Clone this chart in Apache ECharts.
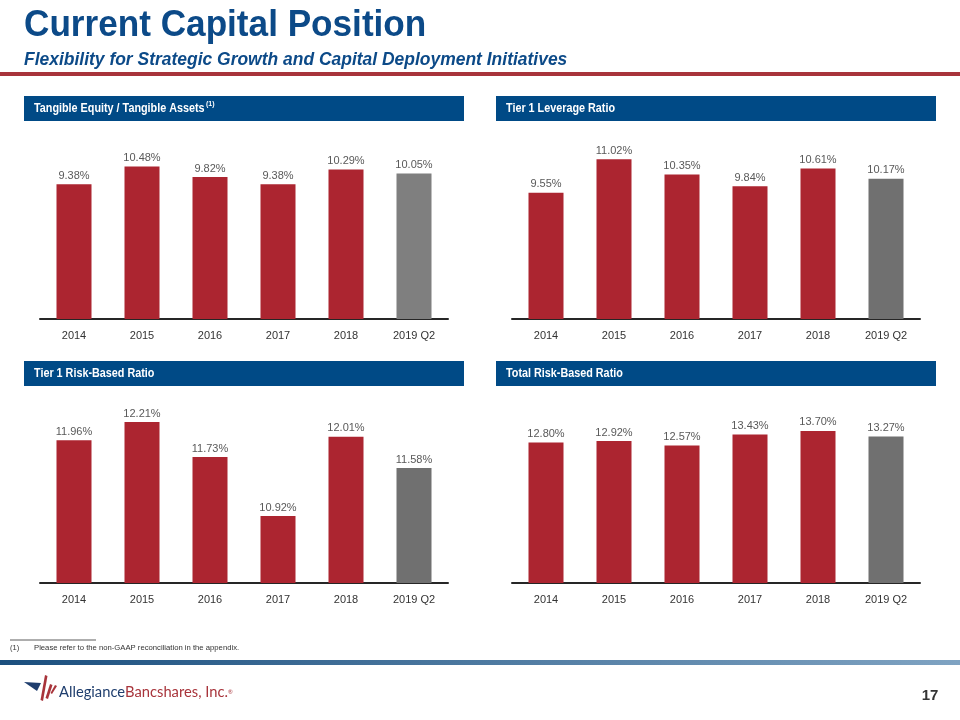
<!DOCTYPE html>
<html>
<head>
<meta charset="utf-8">
<script src="https://cdn.jsdelivr.net/npm/echarts@6/dist/echarts.min.js"></script>
<style>
html,body{margin:0;padding:0;background:#fff;}
#chart{width:960px;height:720px;}
</style>
</head>
<body>
<div id="chart"></div>
<script>
const categories = ['2014', '2015', '2016', '2017', '2018', '2019 Q2'];
const tangibleEquity = [9.38, 10.48, 9.82, 9.38, 10.29, 10.05];
const tier1Leverage = [9.55, 11.02, 10.35, 9.84, 10.61, 10.17];
const tier1RiskBased = [11.96, 12.21, 11.73, 10.92, 12.01, 11.58];
const totalRiskBased = [12.80, 12.92, 12.57, 13.43, 13.70, 13.27];
const panelTitles = ['Tangible Equity / Tangible Assets', 'Tier 1 Leverage Ratio', 'Tier 1 Risk-Based Ratio', 'Total Risk-Based Ratio'];

const RED = '#AC2530';
const SANS = "'Liberation Sans',Arial,sans-serif";

const panels = [
  {data: tangibleEquity, grid: {left: 40, width: 408, top: 142, height: 177}, min: 1, max: 12, gray: '#7F7F7F'},
  {data: tier1Leverage, grid: {left: 512, width: 408, top: 137, height: 182}, min: 4, max: 12, gray: '#707070'},
  {data: tier1RiskBased, grid: {left: 40, width: 408, top: 401, height: 182}, min: 10, max: 12.5, gray: '#707070'},
  {data: totalRiskBased, grid: {left: 512, width: 408, top: 401, height: 182}, min: 2, max: 16, gray: '#707070'}
];

const chart = echarts.init(document.getElementById('chart'), null, {renderer: 'canvas'});

const graphics = [];
// Title
graphics.push({type: 'text', x: 24, y: 7, scaleX: 0.95, style: {text: 'Current Capital Position', fill: '#0C4A88', font: "bold 37px " + SANS, verticalAlign: 'top'}});
graphics.push({type: 'text', x: 24, y: 51, scaleX: 0.97, style: {text: 'Flexibility for Strategic Growth and Capital Deployment Initiatives', fill: '#0C4A88', font: "italic bold 18px " + SANS, verticalAlign: 'top'}});
graphics.push({type: 'rect', shape: {x: 0, y: 72, width: 960, height: 4}, style: {fill: '#A8343B'}});
// Panel headers
const headers = [
  {x: 24, y: 96}, {x: 496, y: 96}, {x: 24, y: 361}, {x: 496, y: 361}
];
headers.forEach((h, i) => {
  graphics.push({type: 'rect', shape: {x: h.x, y: h.y, width: 440, height: 25}, style: {fill: '#004A86'}});
  graphics.push({type: 'text', x: h.x + 10, y: h.y + 12.5, scaleX: 0.9, style: {text: panelTitles[i], fill: '#fff', font: "bold 12px " + SANS, verticalAlign: 'middle'}});
});
graphics.push({type: 'text', x: 206, y: 104, style: {text: '(1)', fill: '#fff', font: "bold 7px " + SANS, verticalAlign: 'middle'}});
// Footnote
graphics.push({type: 'line', shape: {x1: 10, y1: 640, x2: 96, y2: 640}, style: {stroke: '#333', lineWidth: 0.8}});
graphics.push({type: 'text', x: 10, y: 648, style: {text: '(1)', fill: '#333', font: "7.5px " + SANS, verticalAlign: 'middle'}});
graphics.push({type: 'text', x: 34, y: 648, style: {text: 'Please refer to the non-GAAP reconciliation in the appendix.', fill: '#333', font: "7.7px " + SANS, verticalAlign: 'middle'}});
// Gradient line
graphics.push({type: 'rect', shape: {x: 0, y: 660, width: 960, height: 5},
  style: {fill: new echarts.graphic.LinearGradient(0, 0, 1, 0, [{offset: 0, color: '#1B4F7E'}, {offset: 1, color: '#7FA3C2'}])}});
// Logo mark
graphics.push({type: 'polygon', shape: {points: [[24, 682], [41, 683], [37, 691]]}, style: {fill: '#1F3E6E'}});
graphics.push({type: 'polygon', shape: {points: [[45, 675], [47.5, 676], [43, 701], [40.5, 700]]}, style: {fill: '#A8343B'}});
graphics.push({type: 'polygon', shape: {points: [[50, 684], [52.5, 685], [48, 699], [45.5, 698]]}, style: {fill: '#A8343B'}});
graphics.push({type: 'polygon', shape: {points: [[55, 685], [57, 686], [52, 694], [50.5, 693]]}, style: {fill: '#A8343B'}});
graphics.push({type: 'text', x: 59, y: 692, scaleX: 0.95, style: {
  text: '{a|Allegiance}{b|Bancshares, Inc.}{c|®}', verticalAlign: 'middle',
  rich: {a: {fill: '#1F3E6E', font: "15.5px Lato, sans-serif"}, b: {fill: '#A8343B', font: "15.5px Lato, sans-serif"}, c: {fill: '#A8343B', font: "6px Lato, sans-serif"}}
}});
// Page number
graphics.push({type: 'text', x: 930, y: 696, style: {text: '17', fill: '#333', font: "bold 15px " + SANS, align: 'center', verticalAlign: 'middle'}});

const option = {
  animation: false,
  backgroundColor: '#fff',
  grid: panels.map(p => Object.assign({containLabel: false}, p.grid)),
  xAxis: panels.map((p, i) => ({
    type: 'category', gridIndex: i, data: categories,
    axisLine: {show: true, lineStyle: {color: '#262626', width: 2}},
    axisTick: {show: false},
    axisLabel: {color: '#333', fontSize: 11, fontFamily: SANS, margin: 11}
  })),
  yAxis: panels.map((p, i) => ({
    type: 'value', gridIndex: i, min: p.min, max: p.max, show: false, splitLine: {show: false}
  })),
  series: panels.map((p, i) => ({
    type: 'bar', xAxisIndex: i, yAxisIndex: i, barWidth: 35,
    data: p.data.map((v, j) => ({value: v, itemStyle: {color: j === p.data.length - 1 ? p.gray : RED}})),
    label: {show: true, position: 'top', distance: 3, color: '#595959', fontSize: 11, fontFamily: SANS,
      formatter: d => d.value.toFixed(2) + '%'}
  })),
  graphic: graphics
};
chart.setOption(option);
</script>
</body>
</html>
